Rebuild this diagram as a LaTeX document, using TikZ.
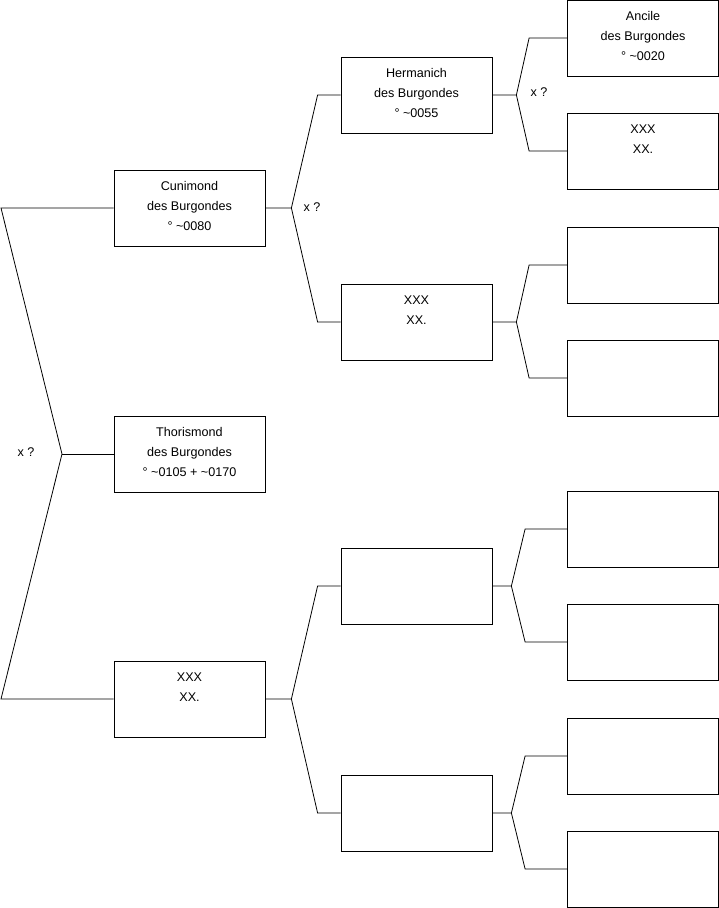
\documentclass[tikz,border=0pt]{standalone}
\usepackage{fontspec}
\setmainfont{Liberation Sans}
\usetikzlibrary{positioning,calc}
\definecolor{ink}{RGB}{0,0,0}
\tikzset{
  person/.style={draw=ink,line width=0.8pt,minimum width=151pt,inner sep=0pt,
    text height=60pt,text depth=16pt,align=center,font=\fontsize{12.6}{20}\selectfont},
  person2/.style={person,text height=40pt,text depth=36pt},
  link/.style={draw=ink,line width=0.8pt},
  tag/.style={font=\fontsize{12.6}{14}\selectfont},
}
\begin{document}
\begin{tikzpicture}[x=1pt,y=-1pt]
  \useasboundingbox (0,0) rectangle (719,908);
  % generation 1
  \node[person] (ga) at (189.5,208) {Cunimond\\des Burgondes\\° \textasciitilde0080};
  \node[person] (gb) at (189.5,454) {Thorismond\\des Burgondes\\° \textasciitilde0105 + \textasciitilde0170};
  \node[person2] (gc) at (189.5,699) {XXX\\XX.};
  % generation 2
  \node[person] (ha) at (416.5,95) {Hermanich\\des Burgondes\\° \textasciitilde0055};
  \node[person2] (hb) at (416.5,322) {XXX\\XX.};
  \node[person] (hc) at (416.5,586) {};
  \node[person] (hd) at (416.5,813) {};
  % generation 3
  \node[person] (ka) at (643,38) {Ancile\\des Burgondes\\° \textasciitilde0020};
  \node[person2] (kb) at (643,151) {XXX\\XX.};
  \foreach \n/\y in {kc/265,kd/378,ke/529,kf/642,kg/756,kh/869}
    \node[person] (\n) at (643,\y) {};
  % root fork
  \coordinate (r0) at (62,454);
  \coordinate (ra) at (1,208);
  \coordinate (rb) at (1,699);
  \draw[link] (ga.west) -- (ra) -- (r0) -- (rb) -- (gc.west);
  \draw[link] (r0) -- (gb.west);
  \node[tag] (q0) at (26,452) {x ?};
  % forks
  \foreach \p/\a/\b/\v/\s in {ga/ha/hb/26/23,gc/hc/hd/26/23,ha/ka/kb/24/38,hb/kc/kd/24/38,hc/ke/kf/19/42,hd/kg/kh/19/42}{
    \draw[link] (\p.east) -- ++(\v,0) coordinate (v\p) -- ([xshift=-\s pt]\a.west) -- (\a.west);
    \draw[link] (v\p) -- ([xshift=-\s pt]\b.west) -- (\b.west);
  }
  \node[tag] (q1) at (312,207) {x ?};
  \node[tag] (q2) at (539,92) {x ?};
\end{tikzpicture}
\end{document}
